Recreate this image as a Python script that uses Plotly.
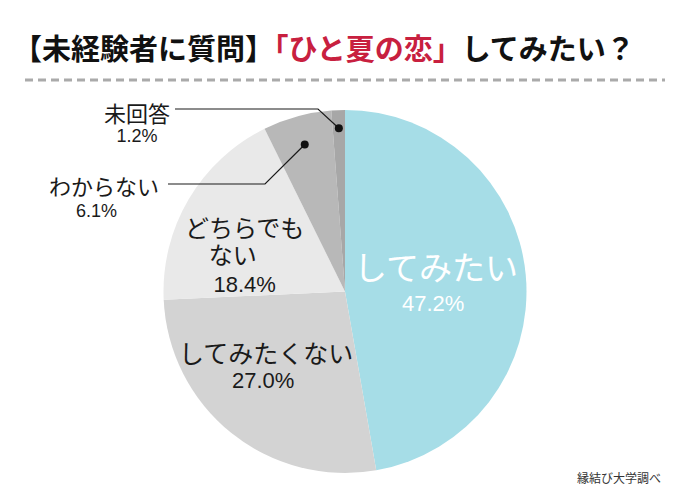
import math

import plotly.graph_objects as go

# ---- data ----
labels = ["してみたい", "してみたくない", "どちらでもない", "わからない", "未回答"]
values = [47.2, 27.0, 18.4, 6.1, 1.2]
colors = ["#a6dde7", "#d3d3d3", "#e9e9e9", "#b8b8b8", "#a7a7a7"]

title_black_1 = "【未経験者に質問】"
title_red = "「ひと夏の恋」"
title_black_2 = "してみたい？"
source_note = "縁結び大学調べ"

W, H = 690, 502
CX, CY, R = 345, 291.5, 181.5

JP = "Noto Sans CJK JP, sans-serif"
NUM = "Liberation Sans, Arial, sans-serif"


def px(x, y):
    return x / W, 1 - y / H


def slice_point(i, frac):
    """point at the mid angle of slice i, frac*R from the centre (clockwise from 12 o'clock)"""
    total = sum(values)
    start = sum(values[:i]) / total
    mid = (start + values[i] / total / 2) * 2 * math.pi
    return CX + frac * R * math.sin(mid), CY - frac * R * math.cos(mid)


fig = go.Figure()
fig.add_trace(go.Pie(
    labels=labels,
    values=values,
    marker=dict(colors=colors, line=dict(width=0)),
    sort=False,
    direction="clockwise",
    rotation=0,
    textinfo="none",
    hoverinfo="label+percent",
    showlegend=False,
    domain=dict(x=[(CX - R) / W, (CX + R) / W], y=[1 - (CY + R) / H, 1 - (CY - R) / H]),
))

ann = []


def text(x, y, s, size, color="#1a1a1a", family=JP, xanchor="center"):
    ax, ay = px(x, y)
    ann.append(dict(x=ax, y=ay, xref="paper", yref="paper", text=s, showarrow=False,
                    xanchor=xanchor, yanchor="middle",
                    font=dict(family=family, size=size, color=color)))


def pct(v, size):
    return f"<span style='font-family:{NUM};font-size:{size}px'>{v:.1f}%</span>"


def jp(s, size):
    return f"<span style='font-size:{size}px'>{s}</span>"


# title
ax, ay = px(11, 47)
ann.append(dict(
    x=ax, y=ay, xref="paper", yref="paper", xanchor="left", yanchor="middle", showarrow=False,
    text=(f"<b>{title_black_1}</b><b><span style='color:#c8203f'>{title_red}</span></b>"
          f"<b>{title_black_2}</b>"),
    font=dict(family=JP, size=29, color="#111111"),
))

# labels in the pie
text(436, 266, labels[0], 33, color="white")
text(433, 303, f"{values[0]:.1f}%", 22, color="white", family=NUM)
text(266, 352, labels[1], 25)
text(263, 380, f"{values[1]:.1f}%", 22, family=NUM)
# line spacing of a multi-line annotation is 1.3 x its base font size
text(244, 253, "<br>".join([jp(labels[2][:5], 24), jp(labels[2][5:] + "\u3000", 24), pct(values[2], 22)]), 21)

# labels outside
text(104, 185, labels[3], 22)
text(96, 211, f"{values[3]:.1f}%", 18, family=NUM)
text(137, 121, "<br>".join([jp(labels[4], 22), pct(values[4], 18)]), 15)

text(619, 477, source_note, 12, color="#333333")

shapes = []
# dashed rule under the title
x0, y0 = px(25, 80)
x1, _ = px(665, 80)
shapes.append(dict(type="line", xref="paper", yref="paper", x0=x0, y0=y0, x1=x1, y1=y0,
                   line=dict(color="#aaaaaa", width=3, dash="8px,5px")))

# leader lines + dots for the small slices
for i, frac, (sx, sy), elbow_x in [(3, 0.84, (168, 184), 265), (4, 0.9, (175, 109), 318)]:
    dx, dy = slice_point(i, frac)
    pts = [px(sx, sy), px(elbow_x, sy), px(dx, dy)]
    path = "M {} {} L {} {} L {} {}".format(*[c for p in pts for c in p])
    shapes.append(dict(type="path", xref="paper", yref="paper", path=path,
                       line=dict(color="#1a1a1a", width=1.2)))
    cx, cy = px(dx, dy)
    rx, ry = 4 / W, 4 / H
    shapes.append(dict(type="circle", xref="paper", yref="paper",
                       x0=cx - rx, x1=cx + rx, y0=cy - ry, y1=cy + ry,
                       fillcolor="#111111", line=dict(width=0)))

fig.update_layout(
    width=W,
    height=H,
    margin=dict(l=0, r=0, t=0, b=0),
    paper_bgcolor="white",
    plot_bgcolor="white",
    annotations=ann,
    shapes=shapes,
)

# drop the default 8px body margin so the figure sits flush in the window
fig.write_html("out.html", config={"displayModeBar": False},
               post_script="document.body.style.margin = '0';")
